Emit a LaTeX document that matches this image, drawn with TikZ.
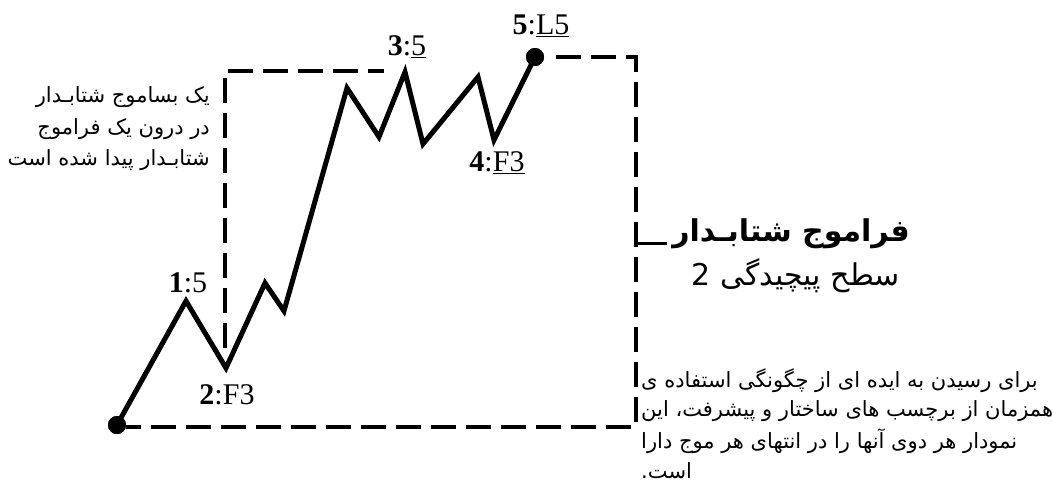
\documentclass[tikz,border=0pt]{standalone}
\usepackage{fontspec}
\setmainfont{Liberation Serif}
\newfontfamily\fa[Script=Arabic]{DejaVu Sans}
\TeXXeTstate=1
\tikzset{
  wave/.style={line width=5pt, line join=miter},
  framedash/.style={line width=4pt, dash pattern=on 25pt off 10pt},
  stub/.style={line width=3pt},
  dotnode/.style={circle, fill=black, inner sep=0pt, minimum size=18pt},
  lab/.style={font=\fontsize{30}{30}\selectfont, inner sep=0pt},
  fatext/.style={font=\fa\fontsize{21}{21}\selectfont, inner sep=0pt},
  fatitle/.style={font=\fa\bfseries\fontsize{30}{30}\selectfont, inner sep=0pt},
  fasub/.style={font=\fa\fontsize{30}{30}\selectfont, inner sep=0pt}
}
\begin{document}
\begin{tikzpicture}[x=1pt,y=-1pt]
\useasboundingbox (0,0) rectangle (1052,501);
% wave points
\coordinate (p0) at (117,425);
\coordinate (p1) at (186,301);
\coordinate (p2) at (226,368);
\coordinate (p3) at (265,283);
\coordinate (p4) at (284,311);
\coordinate (p5) at (347,88);
\coordinate (p6) at (379,137);
\coordinate (p7) at (405,72);
\coordinate (p8) at (423,144);
\coordinate (p9) at (478,77);
\coordinate (p10) at (494,140);
\coordinate (p11) at (535,57);
% frame corners
\coordinate (tr) at (636,57);
\coordinate (br) at (636,427);
\coordinate (il) at (225,348);
\coordinate (tl) at (225,71);
\coordinate (tend) at (384,71);
\coordinate (sa) at (636,243);
\coordinate (sb) at (667,243);

\node[dotnode] (d0) at (p0) {};
\node[dotnode] (d5) at (p11) {};
\draw[wave] (p0) -- (p1) -- (p2) -- (p3) -- (p4) -- (p5) -- (p6) -- (p7) -- (p8) -- (p9) -- (p10) -- (p11);
\draw[framedash, shorten <=12pt] (d5.east) -- (tr) -- (br) -- (d0.east |- br);
\draw[framedash] (il) -- (tl) -- (tend);
\draw[stub] (sa) -- (sb);
\node[dotnode] at (p0) {};
\node[dotnode] at (p11) {};

% wave labels
\node[lab] (l1) at (188,283) {\textbf{1}:5};
\node[lab] (l2) at (227,395) {\textbf{2}:F3};
\node[lab] (l3) at (407,47) {\textbf{3}:\underline{5}};
\node[lab] (l4) at (497,163) {\textbf{4}:\underline{F3}};
\node[lab] (l5) at (541,26) {\textbf{5}:\underline{L5}};

% left text
\node[fatext, anchor=east] (t1) at (210,97) {\beginR یک بساموج شتابـدار\endR};
\node[fatext, anchor=east] (t2) at (210,129) {\beginR در درون یک فراموج\endR};
\node[fatext, anchor=east] (t3) at (210,160) {\beginR شتابـدار پیدا شده است\endR};

% title
\node[fatitle, anchor=east] (tt) at (910,234) {\beginR فراموج شتابـدار\endR};
\node[fasub, anchor=east] (ts) at (900,276) {\beginR سطح پیچیدگی 2\endR};

% bottom text
\node[fatext, anchor=west] (b1) at (641,381) {\beginR برای رسیدن به ایده ای از چگونگی استفاده ی\endR};
\node[fatext, anchor=west] (b2) at (641,411) {\beginR همزمان از برچسب های ساختار و پیشرفت، این\endR};
\node[fatext, anchor=west] (b3) at (641,441) {\beginR نمودار هر دوی آنها را در انتهای هر موج دارا\endR};
\node[fatext, anchor=west] (b4) at (641,471) {\beginR است.\endR};
\end{tikzpicture}
\end{document}
